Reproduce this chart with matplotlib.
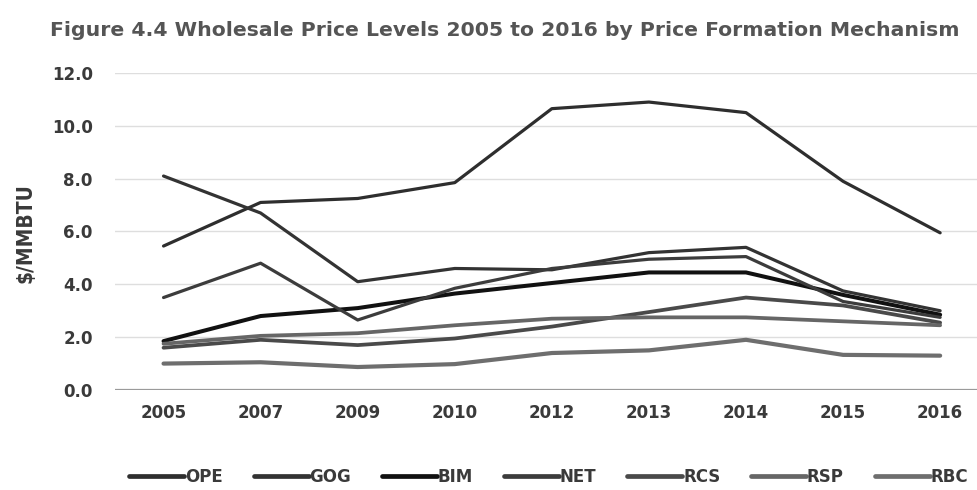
import matplotlib
matplotlib.use("Agg")
import matplotlib.pyplot as plt
from matplotlib import font_manager

# Wholesale gas prices by price formation mechanism, $/MMBTU
years = ["2005", "2007", "2009", "2010", "2012", "2013", "2014", "2015", "2016"]
ope = [5.45, 7.1, 7.25, 7.85, 10.65, 10.9, 10.5, 7.9, 5.95]
gog = [8.1, 6.7, 4.1, 4.6, 4.55, 5.2, 5.4, 3.75, 3.0]
bim = [1.85, 2.8, 3.1, 3.65, 4.05, 4.45, 4.45, 3.6, 2.85]
net = [3.5, 4.8, 2.65, 3.85, 4.6, 4.95, 5.05, 3.35, 2.75]
rcs = [1.6, 1.9, 1.7, 1.95, 2.4, 2.95, 3.5, 3.2, 2.55]
rsp = [1.75, 2.05, 2.15, 2.45, 2.7, 2.75, 2.75, 2.6, 2.45]
rbc = [1.0, 1.05, 0.87, 0.98, 1.4, 1.5, 1.9, 1.33, 1.3]

names = ["OPE", "GOG", "BIM", "NET", "RCS", "RSP", "RBC"]
series = [ope, gog, bim, net, rcs, rsp, rbc]
colors = ["#2e2e2e", "#333333", "#111111", "#3c3c3c", "#4a4a4a", "#666666", "#6e6e6e"]
widths = [2.3, 2.3, 2.9, 2.3, 2.7, 2.7, 3.0]

installed = {f.name for f in font_manager.fontManager.ttflist}
narrow = "Liberation Sans Narrow" if "Liberation Sans Narrow" in installed else "DejaVu Sans"

fig = plt.figure(figsize=(9.78, 4.90), dpi=100)
ax = fig.add_axes([115 / 978, 1 - 390 / 490, 863 / 978, 317 / 490])

x = list(range(len(years)))
for name, vals, c, lw in zip(names, series, colors, widths):
    ax.plot(x, vals, color=c, lw=lw, label=name, solid_capstyle="round",
            solid_joinstyle="round")

ax.set_xlim(-0.5, 8.39)
ax.set_ylim(0, 12)
ax.set_yticks([0, 2, 4, 6, 8, 10, 12])
ax.set_yticklabels([f"{v:.1f}" for v in [0, 2, 4, 6, 8, 10, 12]])
ax.set_xticks(x)
ax.set_xticklabels(years)

for spine in ax.spines.values():
    spine.set_visible(False)
ax.axhline(0, color="#9a9a9a", lw=1.6, zorder=1)
ax.grid(axis="y", color="#dedede", lw=1.0)
ax.set_axisbelow(True)
ax.tick_params(length=0)
ax.tick_params(axis="y", pad=16)
ax.tick_params(axis="x", pad=10)
for lab in ax.get_xticklabels() + ax.get_yticklabels():
    lab.set_fontweight("bold")
    lab.set_fontsize(12)
    lab.set_color("#3a3a3a")

fig.text(26 / 978, 1 - 233 / 490, "$/MMBTU", rotation=90, ha="center", va="center",
         fontsize=15, fontweight="bold", fontstretch="condensed", family=narrow,
         color="#3a3a3a")

fig.text(50 / 978, 1 - 30 / 490,
         "Figure 4.4 Wholesale Price Levels 2005 to 2016 by Price Formation Mechanism",
         ha="left", va="center", fontsize=14.7, fontweight="bold", color="#555555")

leg = fig.legend(loc="center", bbox_to_anchor=(0.561, 1 - 477 / 490), ncol=7,
                 frameon=False, handlelength=3.3, handletextpad=0.05, columnspacing=1.85,
                 prop={"weight": "bold", "size": 12})
for t in leg.get_texts():
    t.set_color("#3a3a3a")
for h in leg.get_lines():
    h.set_linewidth(3.4)

fig.savefig("out.png", dpi=100)
